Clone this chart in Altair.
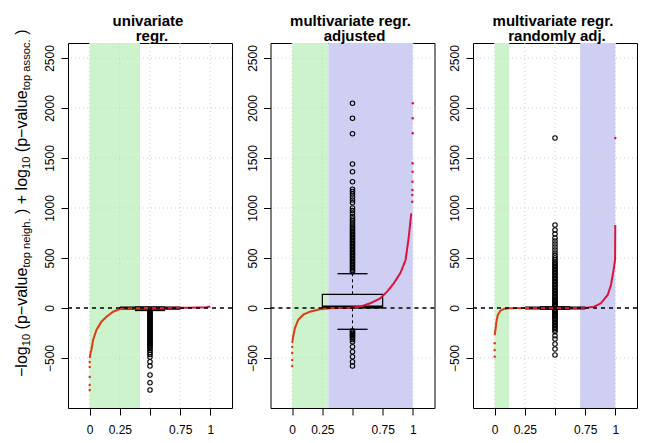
import altair as alt
import pandas as pd

FONT = "Liberation Sans"

# ---------------- data ----------------
panel_line1 = ["univariate", "multivariate regr.", "multivariate regr."]
panel_line2 = ["regr.", "adjusted", "randomly adj."]

x_ticks = [0, 0.25, 0.5, 0.75, 1]
y_ticks = [-500, 0, 500, 1000, 1500, 2000, 2500]

green_end = [0.417, 0.30, 0.12]
blue_start = [None, 0.30, 0.708]

# red quantile curves (fraction of ranked items, value)
curve_x = [
    [0.0, 0.007, 0.014, 0.028, 0.056, 0.097, 0.139, 0.194, 0.25, 0.30, 0.40, 0.50, 0.60, 0.70, 0.80, 0.90, 0.97, 1.0],
    [0.0, 0.008, 0.022, 0.05, 0.092, 0.147, 0.23, 0.314, 0.40, 0.48, 0.564, 0.647, 0.73, 0.787, 0.842, 0.897, 0.94, 0.967, 0.987],
    [0.0, 0.006, 0.014, 0.025, 0.047, 0.075, 0.12, 0.30, 0.50, 0.70, 0.77, 0.825, 0.88, 0.937, 0.964, 0.986, 0.998, 0.999, 1.0],
]
curve_y = [
    [-500, -450, -420, -320, -220, -137, -87, -37, -10, -4, -2, 0, 1, 2, 3, 5, 8, 15],
    [-350, -287, -203, -117, -67, -37, -13, -3, 0, 3, 13, 47, 97, 163, 247, 350, 480, 713, 947],
    [-270, -220, -137, -70, -27, -10, -3, 0, 0, 1, 4, 13, 47, 130, 230, 380, 480, 600, 830],
]
# isolated extreme points of the red curves
tail_x = [
    [0.0, 0.0, 0.0, 0.0, 0.0],
    [0.0, 0.0, 0.0, 0.0, 0.995, 0.996, 0.997, 0.997, 0.998, 0.998, 0.999, 0.999, 1.0],
    [0.0, 0.0, 0.0, 1.0],
]
tail_y = [
    [-820, -770, -690, -590, -540],
    [-580, -520, -450, -390, 1063, 1130, 1180, 1263, 1363, 1447, 1747, 1897, 2047],
    [-487, -420, -353, 1700],
]

# boxplot statistics
box_q1 = [-8, 3, -3]
box_med = [0, 10, 0]
box_q3 = [5, 137, 3]
whisk_lo = [-25, -213, -12]
whisk_hi = [10, 343, 12]

outliers = [
    [-30, -42, -54, -66, -78, -90, -102, -114, -126, -138, -150, -162, -174, -186, -198, -210,
     -222, -234, -246, -258, -270, -282, -294, -306, -318, -330, -342, -354, -366, -378, -392,
     -408, -425, -445, -465, -490, -537, -580, -670, -747, -820],
    [360, 375, 390, 405, 420, 435, 450, 465, 480, 495, 510, 525, 540, 555, 570, 585, 600, 615,
     630, 645, 660, 675, 690, 705, 720, 735, 750, 765, 780, 795, 810, 830, 850, 870, 890, 915,
     947, 975, 1000, 1053, 1080, 1110, 1140, 1165, 1187, 1263, 1363, 1440, 1743, 1897, 2047,
     -228, -240, -252, -264, -276, -288, -300, -315, -337, -387, -437, -487, -537, -580],
    [12, 25, 38, 50, 63, 75, 88, 100, 115, 130, 145, 160, 175, 190, 205, 220, 235, 250, 265,
     280, 295, 310, 325, 340, 355, 370, 385, 400, 415, 430, 445, 460, 480, 500, 525, 550, 580,
     610, 640, 670, 700, 740, 780, 830, 1700,
     -12, -25, -38, -50, -63, -75, -88, -100, -115, -130, -145, -160, -175, -190, -205, -220,
     -237, -277, -310, -360, -410, -470],
]

# y-axis title pieces: (text, is_subscript)
ytitle_parts = [("−log", False), ("10", True), (" (p−value", False), ("top neigh.", True),
                (" ) + log", False), ("10", True), (" (p−value", False), ("top assoc.", True),
                (" )", False)]

# ---------------- styling ----------------
W, H = 164, 365
GREEN = "#cdf3cd"
BLUE = "#cecff2"
RED_NEG = "#dc3c14"
RED_POS = "#dc143c"

XS = alt.Scale(domain=[-0.18, 1.18], nice=False, zero=False)
YS = alt.Scale(domain=[-1000, 2650], nice=False, zero=False)
XAX = alt.Axis(values=x_ticks, labelExpr="datum.value == 0.5 ? '' : '' + datum.value",
               title=None, grid=False, domain=False, tickSize=7, labelPadding=18.5,
               labelBaseline="alphabetic", labelFontSize=12)
YAX = alt.Axis(values=y_ticks, format="d", title=None, labelAngle=270, labelAlign="center",
               labelBaseline="alphabetic", labelPadding=7.4, tickSize=7, domain=False,
               grid=False, labelFontSize=12)

ONE = pd.DataFrame({"k": [0]})

CW = {'−': 584, 'l': 222, 'o': 556, 'g': 556, '1': 556, '0': 556, ' ': 278, '(': 333,
      ')': 333, 'p': 556, 'v': 500, 'a': 556, 'u': 556, 'e': 556, 't': 278, 'n': 556,
      'i': 222, 'h': 556, '.': 278, '+': 584, 's': 500, 'c': 500}


def xe(f):
    return alt.X(f + ":Q", scale=XS, axis=XAX)


def ye(f):
    return alt.Y(f + ":Q", scale=YS, axis=YAX)


def txt(text, x, y, size, bold=False, angle=0, align="center"):
    return alt.Chart(ONE).mark_text(
        text=text, fontSize=size, fontWeight="bold" if bold else "normal", angle=angle,
        align=align, baseline="alphabetic", font=FONT, color="black"
    ).encode(x=alt.value(x), y=alt.value(y))


def panel(i):
    layers = []
    # shaded bands
    bx, bx2, bc = [0.0], [green_end[i]], [GREEN]
    if blue_start[i] is not None:
        bx.append(blue_start[i]); bx2.append(1.0); bc.append(BLUE)
    bands = pd.DataFrame({"x": bx, "x2": bx2, "c": bc})
    layers.append(alt.Chart(bands).mark_rect().encode(
        x=xe("x"), x2="x2:Q",
        y=alt.value(0), y2=alt.value(H),
        color=alt.Color("c:N", scale=None)))
    # grid
    layers.append(alt.Chart(pd.DataFrame({"x": x_ticks})).mark_rule(
        color="#cfcfcf", strokeDash=[1, 3], strokeWidth=1).encode(x=xe("x")))
    layers.append(alt.Chart(pd.DataFrame({"y": y_ticks})).mark_rule(
        color="#cfcfcf", strokeDash=[1, 3], strokeWidth=1).encode(y=ye("y")))
    # boxplot
    st = pd.DataFrame({"a": [0.25], "b": [0.75], "m": [0.5], "c1": [0.375], "c2": [0.625],
                       "q1": [box_q1[i]], "med": [box_med[i]], "q3": [box_q3[i]],
                       "lo": [whisk_lo[i]], "hi": [whisk_hi[i]]})
    base = alt.Chart(st)
    layers.append(base.mark_rule(color="black", strokeDash=[3, 3]).encode(
        x=xe("m"), y=ye("q3"), y2="hi:Q"))
    layers.append(base.mark_rule(color="black", strokeDash=[3, 3]).encode(
        x=xe("m"), y=ye("lo"), y2="q1:Q"))
    layers.append(base.mark_rule(color="black", strokeWidth=1.3).encode(
        x=xe("c1"), x2="c2:Q", y=ye("hi")))
    layers.append(base.mark_rule(color="black", strokeWidth=1.3).encode(
        x=xe("c1"), x2="c2:Q", y=ye("lo")))
    layers.append(base.mark_rect(fillOpacity=0, stroke="black", strokeWidth=1.2).encode(
        x=xe("a"), x2="b:Q", y=ye("q1"), y2="q3:Q"))
    layers.append(base.mark_rule(color="black", strokeWidth=3).encode(
        x=xe("a"), x2="b:Q", y=ye("med")))
    od = pd.DataFrame({"x": [0.5] * len(outliers[i]), "y": outliers[i]})
    layers.append(alt.Chart(od).mark_point(shape="circle", filled=False, color="black",
                                           size=20, strokeWidth=1.1, opacity=1).encode(
        x=xe("x"), y=ye("y")))
    # red curve
    cd = pd.DataFrame({"x": curve_x[i], "y": curve_y[i]})
    layers.append(alt.Chart(cd).transform_filter("datum.y <= 0").mark_line(
        color=RED_NEG, strokeWidth=2).encode(x=xe("x"), y=ye("y")))
    layers.append(alt.Chart(cd).transform_filter("datum.y >= 0").mark_line(
        color=RED_POS, strokeWidth=2).encode(x=xe("x"), y=ye("y")))
    td = pd.DataFrame({"x": tail_x[i], "y": tail_y[i]})
    layers.append(alt.Chart(td).transform_filter("datum.y < 0").mark_circle(
        color=RED_NEG, size=6, opacity=1).encode(x=xe("x"), y=ye("y")))
    layers.append(alt.Chart(td).transform_filter("datum.y > 0").mark_circle(
        color=RED_POS, size=6, opacity=1).encode(x=xe("x"), y=ye("y")))
    # dashed zero line
    layers.append(alt.Chart(pd.DataFrame({"y": [0]})).mark_rule(
        color="black", strokeDash=[4, 4], strokeWidth=1.4).encode(y=ye("y")))
    # titles
    layers.append(txt(panel_line1[i], 80, -17.5, 15, bold=True))
    layers.append(txt(panel_line2[i], 84, -2, 15, bold=True))
    if i == 0:
        # composite y-axis title with subscripts
        pos = 0.0
        start = 334.0
        for t, sub in ytitle_parts:
            size = 11.2 if sub else 16
            lead = (len(t) - len(t.lstrip(" "))) * CW[" "] * size / 1000
            width = sum(CW[ch] for ch in t) * size / 1000
            layers.append(txt(t.lstrip(" "), -38.5 if sub else -41.5, start - pos - lead,
                              size, angle=270, align="left"))
            pos += width
        # invisible anchor fixing the top-left of the drawing
        layers.append(alt.Chart(ONE).mark_rule(strokeOpacity=0, strokeWidth=1).encode(
            x=alt.value(-59.5), x2=alt.value(-59), y=alt.value(-34.5), y2=alt.value(-34)))
    return alt.layer(*layers).properties(width=W, height=H)


chart = alt.hconcat(panel(0), panel(1), panel(2), spacing=38.5, bounds="flush").properties(
    padding=0
).configure_view(stroke="black", strokeWidth=1).configure_axis(
    tickColor="black", labelColor="black", labelFont=FONT, tickWidth=1
)

chart.save("out.html", embed_options={"renderer": "svg", "actions": False})
